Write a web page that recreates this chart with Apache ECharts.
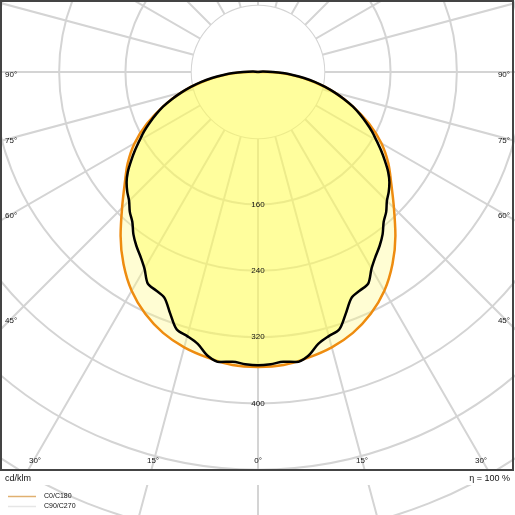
<!DOCTYPE html>
<html><head><meta charset="utf-8">
<script src="https://cdn.jsdelivr.net/npm/echarts@6/dist/echarts.min.js"></script>
<style>html,body{margin:0;padding:0;background:#fff}#c{width:515px;height:515px}</style>
</head><body><div id="c"></div>
<script>
// C0/C180 plane, cd/klm at gamma (5° steps)
const c0Angles = [0,5,10,15,20,25,30,35,40,45,50,55,60,65,70,75,80,85,90];
const c0Values = [356,355,350,344,335,322,305,283,258,232,210,192,172,148,122,96,68,40,12];
// C90/C270 plane (2.5° steps)
const c90Angles = [0,2.5,5,7.5,10,12.5,15,17.5,20,22.5,25,27.5,30,32.5,35,37.5,40,42.5,45,47.5,50,52.5,55,57.5,60,62.5,65,67.5,70,72.5,75,77.5,80,82.5,85,87.5,90,95,100];
const c90Values = [354,353,351,353,348,336,330,326,310,295,291,288,274,264,256,247,236,229,220,214,207,198,187,176,165,155,144,133,122,109,96,83,70,56,42,30,18,6,0];
const radiusTicks = [0,80,160,240,320,400,480,560];
const shownRadiusLabels = [160,240,320,400];
const angleLabelsSide = ['90°','75°','60°','45°'];
const angleLabelsBottom = ['30°','15°','0°','15°','30°'];
const seriesNames = ['C0/C180','C90/C270'];

function loop(angles, values){
  const pts=[[0,angles[angles.length-1]]];
  for(let i=angles.length-1;i>=0;i--) pts.push([values[i],angles[i]]);
  for(let i=1;i<angles.length;i++) pts.push([values[i],360-angles[i]]);
  pts.push([0,360-angles[angles.length-1]]);
  return pts;
}
const disk=[];for(let a=0;a<=360;a+=5)disk.push([radiusTicks[1],a]);

const F='Liberation Sans, Arial, sans-serif';
const txt=(t,x,y,align,size)=>({type:'text',z:100,style:{text:t,x:x,y:y,textAlign:align||'left',textVerticalAlign:'middle',font:(size||8)+'px '+F,fill:'#111'}});
const sideY=[75,141,216,321], botX=[35,153,258,362,481];
const graphics=[
 {type:'rect',z:90,shape:{x:0,y:471,width:515,height:14},style:{fill:'#fff'}},
 {type:'rect',z:95,shape:{x:1,y:1,width:512,height:469},style:{fill:'none',stroke:'#444',lineWidth:2}},
 txt('cd/klm',5,479,'left',9),
 txt('η = 100 %',510,479,'right',9)
];
angleLabelsSide.forEach((t,i)=>{graphics.push(txt(t,5,sideY[i],'left'));graphics.push(txt(t,510,sideY[i],'right'));});
angleLabelsBottom.forEach((t,i)=>graphics.push(txt(t,botX[i],461,'center')));

const chart=echarts.init(document.getElementById('c'));
chart.setOption({
 animation:false,
 polar:{center:[258,72],radius:464},
 angleAxis:{type:'value',min:0,max:360,interval:15,startAngle:270,clockwise:true,
   axisLine:{show:false},axisTick:{show:false},axisLabel:{show:false},
   splitLine:{lineStyle:{color:'#d4d4d4',width:2}}},
 radiusAxis:{type:'value',min:0,max:560,interval:80,
   axisLine:{show:false},axisTick:{show:false},axisLabel:{show:false},
   splitLine:{lineStyle:{color:'#d4d4d4',width:2}}},
 legend:{z:120,orient:'vertical',left:3,top:488,itemGap:3,itemWidth:28,itemHeight:1.5,icon:'rect',
   textStyle:{fontSize:7,fontFamily:F,color:'#111',padding:[0,0,0,3]},
   data:[{name:seriesNames[0],itemStyle:{color:'#e0b070'}},{name:seriesNames[1],itemStyle:{color:'#e6e6e6'}}]},
 graphic:graphics,
 series:[
  {type:'line',coordinateSystem:'polar',silent:true,symbol:'none',data:disk,z:1,
   lineStyle:{width:0},areaStyle:{color:'#fff',opacity:1}},
  {name:seriesNames[0],type:'line',coordinateSystem:'polar',symbol:'none',data:loop(c0Angles,c0Values),z:2,
   smooth:0.3,lineStyle:{color:'#ee8c10',width:2.5},areaStyle:{color:'rgba(255,250,130,0.5)'}},
  {name:seriesNames[1],type:'line',coordinateSystem:'polar',symbol:'none',data:loop(c90Angles,c90Values),z:3,
   smooth:0.3,lineStyle:{color:'#000',width:2.5},areaStyle:{color:'rgba(255,255,60,0.5)'}}
 ]
});
// radius labels placed via the polar scale
const rl=shownRadiusLabels.map(v=>{
  const p=chart.convertToPixel({polarIndex:0},[v,0]);
  return {type:'text',z:100,style:{text:String(v),x:p[0],y:p[1],textAlign:'center',textVerticalAlign:'middle',font:'8px '+F,fill:'#111'}};
});
chart.setOption({graphic:graphics.concat(rl)});
</script></body></html>
